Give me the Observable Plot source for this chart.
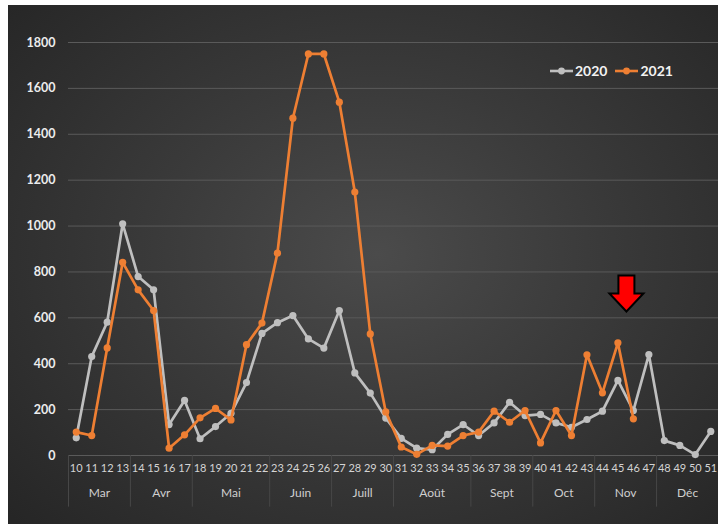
<!DOCTYPE html>
<html>
<head>
<meta charset="utf-8">
<script src="https://cdn.jsdelivr.net/npm/d3@7"></script>
<script src="https://cdn.jsdelivr.net/npm/@observablehq/plot@0.6"></script>
<style>
  html, body { margin: 0; padding: 0; background: #ffffff; }
  #wrap {
    position: absolute; left: 8px; top: 5px; width: 710px; height: 519px;
    background: radial-gradient(ellipse 70% 75% at 52% 48%, #4b4b4b 0%, #3a3a3a 45%, #262626 100%);
    overflow: hidden;
    font-family: Lato, "Open Sans", sans-serif;
  }
  #legend {
    position: absolute; left: 542px; top: 57px; display: flex; align-items: center;
    color: #f2f2f2; font: bold 14px Lato, sans-serif; gap: 4px;
  }
  #legend .item { display: flex; align-items: center; gap: 2px; margin-right: 4px; }
  #chart { position: absolute; left: 0; top: 0; }
</style>
</head>
<body>
<div id="wrap">
  <div id="chart"></div>
  <div id="legend"></div>
</div>
<script>
const weeks = [10,11,12,13,14,15,16,17,18,19,20,21,22,23,24,25,26,27,28,29,30,31,32,33,34,35,36,37,38,39,40,41,42,43,44,45,46,47,48,49,50,51];
const values2020 = [77,431,581,1010,780,722,135,240,73,126,184,318,532,579,610,508,468,632,360,272,163,75,32,25,92,135,87,142,232,174,179,142,123,157,193,327,196,440,65,44,4,105];
const values2021 = [102,87,469,842,722,632,32,90,164,205,155,483,577,882,1470,1750,1750,1540,1148,530,190,37,5,44,41,87,102,193,145,196,55,196,87,439,273,491,160];
const months = ["Mar","Avr","Mai","Juin","Juill","Août","Sept","Oct","Nov","Déc"];
const monthFirstWeek = [10,14,18,23,27,31,36,40,44,48];
const monthLastWeek  = [13,17,22,26,30,35,39,43,47,51];
const yTicks = [0,200,400,600,800,1000,1200,1400,1600,1800];
const seriesNames = ["2020","2021"];
const seriesColors = ["#bfbfbf","#ee7f33"];
const arrowMark = {week: 45.55, value: 706};

const rows2020 = values2020.map((v,i) => ({week: weeks[i], value: v}));
const rows2021 = values2021.map((v,i) => ({week: weeks[i], value: v}));
const monthRows = months.map((m,i) => ({label: m, center: (monthFirstWeek[i] + monthLastWeek[i]) / 2}));
const separators = monthFirstWeek.map(w => w - 0.5);

const arrowSymbol = {
  draw(ctx) {
    ctx.moveTo(-8,-18); ctx.lineTo(8,-18); ctx.lineTo(8,0); ctx.lineTo(17,0);
    ctx.lineTo(0,18); ctx.lineTo(-17,0); ctx.lineTo(-8,0); ctx.closePath();
  }
};

const plot = Plot.plot({
  width: 710,
  height: 519,
  marginLeft: 60,
  marginRight: 0,
  marginTop: 37,
  marginBottom: 69,
  style: {background: "transparent", fontFamily: "Lato, 'Open Sans', sans-serif", overflow: "visible"},
  x: {domain: [9.5, 51.5], axis: null},
  y: {domain: [0, 1800], axis: null},
  marks: [
    Plot.ruleY(yTicks, {stroke: "#5a5a5a", strokeWidth: 1}),
    Plot.ruleX(separators, {y1: 0, y2: -225, stroke: "#474747", strokeWidth: 1}),
    Plot.text(yTicks, {x: 9.5, y: d => d, text: d => String(d), textAnchor: "end", dx: -13, fill: "#ececec", fontWeight: "bold", fontSize: 12.5}),
    Plot.text(weeks, {x: d => d, y: 0, text: d => String(d), dy: 13, fill: "#d4d4d4", fontSize: 11}),
    Plot.text(monthRows, {x: "center", y: 0, text: "label", dy: 38, fill: "#cfcfcf", fontSize: 12}),
    Plot.line(rows2020, {x: "week", y: "value", stroke: seriesColors[0], strokeWidth: 2.7}),
    Plot.dot(rows2020, {x: "week", y: "value", fill: seriesColors[0], r: 3.6}),
    Plot.line(rows2021, {x: "week", y: "value", stroke: seriesColors[1], strokeWidth: 2.7}),
    Plot.dot(rows2021, {x: "week", y: "value", fill: seriesColors[1], r: 3.6}),
    Plot.dot([arrowMark], {x: "week", y: "value", symbol: arrowSymbol, fill: "#ff0000", stroke: "#000000", strokeWidth: 2})
  ]
});
document.getElementById("chart").appendChild(plot);

const legend = document.getElementById("legend");
seriesNames.forEach((name, i) => {
  const item = document.createElement("div");
  item.className = "item";
  item.innerHTML = `<svg width="23" height="10"><line x1="0" y1="5" x2="23" y2="5" stroke="${seriesColors[i]}" stroke-width="2.6"/><circle cx="11.5" cy="5" r="3.4" fill="${seriesColors[i]}"/></svg><span>${name}</span>`;
  legend.appendChild(item);
});
</script>
</body>
</html>
